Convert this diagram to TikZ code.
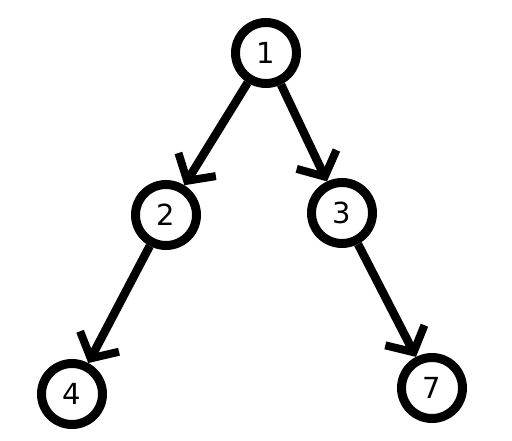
\documentclass[tikz,border=0pt]{standalone}
\usepackage{fontspec}
\setmainfont{DejaVu Sans}
\usepackage{tikz}
\usetikzlibrary{arrows.meta}
\tikzset{vertex/.style = {shape = circle, draw, line width = 9pt, minimum size = 61pt, inner sep = 0pt, font = \fontsize{29}{30}\selectfont}}
\tikzset{edge/.style = {-{Straight Barb[length = 19pt, width = 44pt, line width = 8pt]}, line width = 8.5pt}}

\begin{document}
\begin{tikzpicture}[x = 1pt, y = -1pt]
	\useasboundingbox (0, 0) rectangle (512, 440);
	\node[vertex] (a) at (266, 53) {1};
	\node[vertex] (b) at (166, 215) {2};
	\node[vertex] (c) at (342, 213) {3};
	\node[vertex] (d) at (72, 394) {4};
	\node[vertex] (e) at (432, 388) {7};

	\draw[edge] (a) to (b);
	\draw[edge] (a) to (c);
	\draw[edge] (b) to (d);
	\draw[edge] (c) to (e);
\end{tikzpicture}
\end{document}
